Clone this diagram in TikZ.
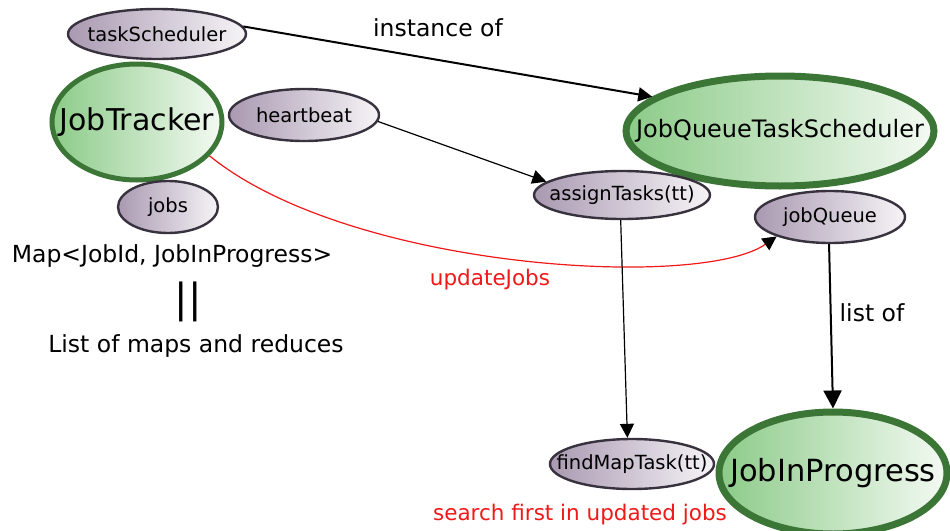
\documentclass[tikz,border=0pt]{standalone}
\usepackage{fontspec}
\setmainfont{DejaVu Sans}
\usepackage{xcolor}
\usepackage{tikz}
\usetikzlibrary{shapes.geometric,arrows.meta}
\definecolor{lilac}{HTML}{A999B1}
\definecolor{lilacw}{HTML}{F6F4F7}
\definecolor{lilacd}{HTML}{38323E}
\definecolor{leaf}{HTML}{8CCB88}
\definecolor{leafw}{HTML}{F4FAF3}
\definecolor{leafd}{HTML}{3C7636}
\definecolor{hot}{HTML}{F01818}
\tikzset{
  small/.style={ellipse, draw=lilacd, line width=2.4pt, left color=lilac, right color=lilacw,
    inner sep=-60pt, font=\fontsize{19.5}{22}\selectfont},
  big/.style={ellipse, draw=leafd, line width=5pt, left color=leaf, right color=leafw,
    inner sep=-80pt},
  lab/.style={text=black, font=\fontsize{23.5}{26}\selectfont},
  labr/.style={text=hot, font=\fontsize{21.5}{24}\selectfont},
  link/.style={draw=black, line width=1.2pt, -{Triangle[length=14pt,width=14pt]}},
  fat/.style={draw=black, line width=2pt, -{Triangle[length=18pt,width=18pt]}}
}
\begin{document}
\begin{tikzpicture}[x=1pt,y=-1pt]
  \useasboundingbox (0,0) rectangle (950,530);
  % left side
  \node[small, minimum width=178pt, minimum height=50pt] (tsch) at (157,34) {taskScheduler};
  \node[big, minimum width=170pt, minimum height=116pt, font=\fontsize{30}{34}\selectfont] (jt) at (137,122) {JobTracker};
  \node[small, minimum width=150pt, minimum height=52pt] (hb) at (304,115) {heartbeat};
  \node[small, minimum width=100pt, minimum height=52pt] (jobs) at (168,207) {jobs};
  \node[lab] (map) at (172,256) {Map<JobId, JobInProgress>};
  \node[font=\fontsize{40}{44}\selectfont] (eq) at (188,302) {||};
  \node[lab] (lst) at (196,346) {List of maps and reduces};
  % right side
  \node[big, line width=7pt, minimum width=308pt, minimum height=110pt, font=\fontsize{24}{28}\selectfont] (jqts) at (780,131) {JobQueueTaskScheduler};
  \node[small, minimum width=176pt, minimum height=48pt] (asg) at (622,195) {assignTasks(tt)};
  \node[small, minimum width=150pt, minimum height=52pt] (jq) at (830,217) {jobQueue};
  \node[small, minimum width=164pt, minimum height=50pt] (fmt) at (632,464) {findMapTask(tt)};
  \node[big, line width=7pt, minimum width=228pt, minimum height=122pt, font=\fontsize{30.5}{34}\selectfont] (jip) at (833,473) {JobInProgress};
  % labels
  \node[lab] (inst) at (438,28) {instance of};
  \node[labr] (upd) at (490,280) {updateJobs};
  \node[lab] (lof) at (872,313) {list of};
  \node[labr] (srch) at (580,515) {search first in updated jobs};
  % connectors
  \draw[link, line width=2pt] (tsch.5) -- (jqts.165);
  \draw[link] (hb.-5) -- (asg.170);
  \draw[hot, line width=1.2pt, -{Triangle[length=14pt,width=14pt,color=black]}]
    (jt.-25) .. controls (350,270) and (700,290) .. (jq.200);
  \draw[link] (asg.-93) -- (fmt.100);
  \draw[fat] (jq.-92) -- (jip.north);
\end{tikzpicture}
\end{document}
